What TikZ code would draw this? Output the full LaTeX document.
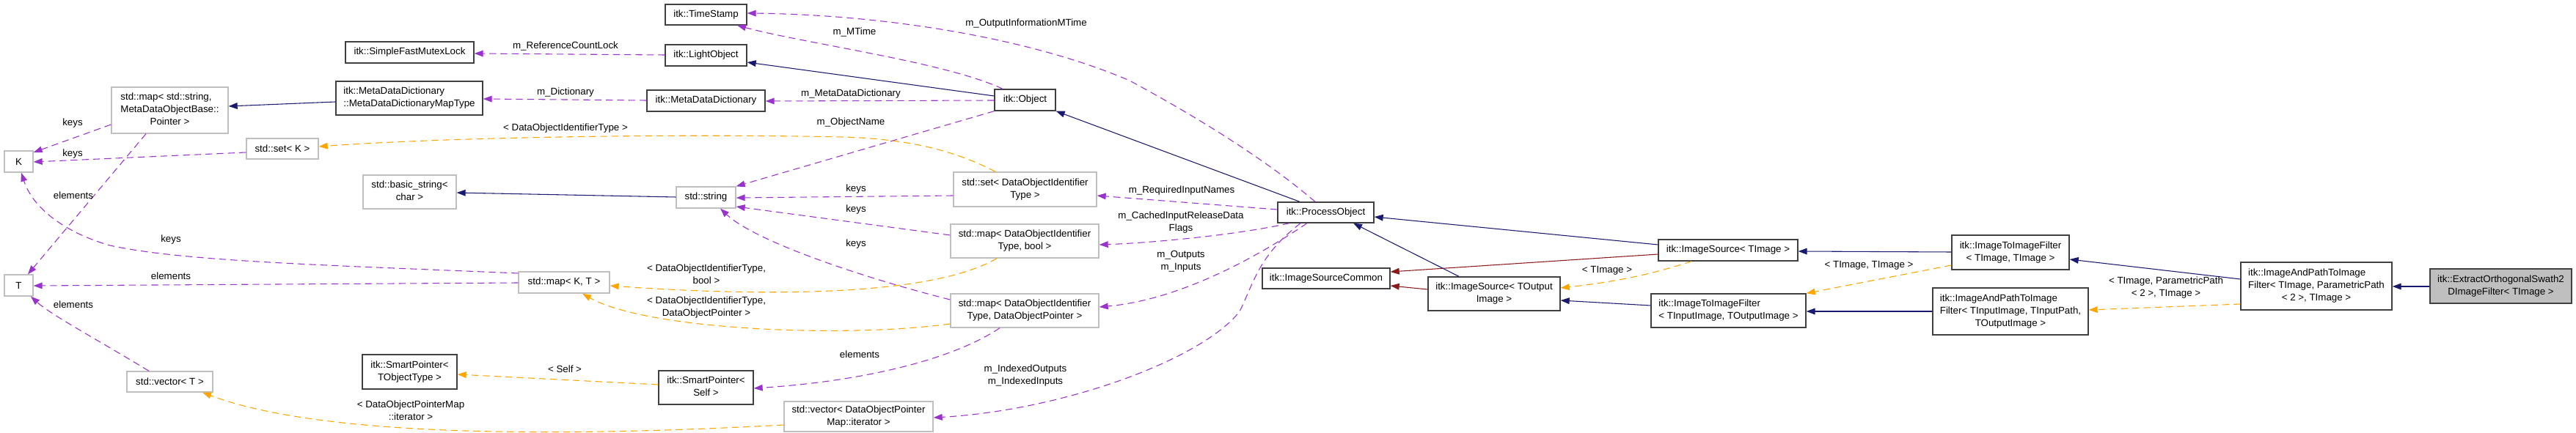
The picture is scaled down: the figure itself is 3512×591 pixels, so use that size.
\documentclass[tikz,border=0pt]{standalone}
\usepackage{fontspec}
\setmainfont{Liberation Sans}
\usetikzlibrary{arrows.meta}
\definecolor{navy}{HTML}{191970}
\definecolor{purp}{HTML}{9A32CD}
\definecolor{orng}{HTML}{FFA500}
\definecolor{dred}{HTML}{8B1A1A}
\definecolor{boxgray}{HTML}{BFBFBF}
\definecolor{boxdark}{HTML}{404040}
\newcommand\lbl{\fontsize{10}{12.75}\selectfont}
\newcommand\twoln[2]{\begin{tabular}{@{}l@{}}#1\\\multicolumn{1}{@{}c@{}}{#2}\end{tabular}}
\newcommand\threeln[3]{\begin{tabular}{@{}l@{}}#1\\#2\\\multicolumn{1}{@{}c@{}}{#3}\end{tabular}}
\newcommand\cls[7]{%
  \pgfmathsetmacro\cw{(#5-#3)*0.75}%
  \pgfmathsetmacro\ch{(#6-#4)*0.75}%
  \node[#2, minimum width=\cw pt, minimum height=\ch pt] (#1) at ({(#3+#5)/2},{(#4+#6)/2}) {#7};}
\tikzset{
  itk/.style={draw=boxdark, line width=1pt, fill=white, inner sep=0pt, font=\lbl},
  std/.style={draw=boxgray, line width=1pt, fill=white, inner sep=0pt, font=\lbl},
  hl/.style={draw=boxdark, line width=1pt, fill=boxgray, inner sep=0pt, font=\lbl},
  tip/.style={-{Triangle[length=9pt,width=6.5pt]}},
  inh/.style={draw=navy, line width=0.8pt, tip},
  pinh/.style={draw=dred, line width=0.8pt, tip},
  use/.style={draw=purp, line width=0.8pt, dash pattern=on 7pt off 4.5pt, tip},
  tpl/.style={draw=orng, line width=0.8pt, dash pattern=on 7pt off 4.5pt, tip},
  lab/.style={font=\lbl, inner sep=0pt, align=center}
}
\begin{document}
\begin{tikzpicture}[x=0.75pt,y=-0.75pt]
\useasboundingbox (0,0) rectangle (3512,591);
\fill[white] (0,0) rectangle (3512,591);
% nodes
\cls{sfml}{itk}{471}{57}{646}{86}{itk::SimpleFastMutexLock}
\cls{mapstr}{std}{152}{119}{311}{182}{\threeln{std::map< std::string,}{MetaDataObjectBase::}{Pointer >}}
\cls{mapty}{itk}{458}{111}{658}{157}{\twoln{itk::MetaDataDictionary}{::MetaDataDictionaryMapType}}
\cls{K}{std}{6}{206}{45}{235}{K}
\cls{setK}{std}{336}{189}{434}{217}{std::set< K >}
\cls{bstr}{std}{495}{239}{622}{285}{\twoln{std::basic\_string<}{char >}}
\cls{T}{std}{6}{375}{45}{404}{T}
\cls{vecT}{std}{173}{507}{290}{535}{std::vector< T >}
\cls{spobj}{itk}{494}{484}{623}{531}{\twoln{itk::SmartPointer<}{TObjectType >}}
\cls{ts}{itk}{907}{6}{1018}{34}{itk::TimeStamp}
\cls{lo}{itk}{907}{61}{1018}{90}{itk::LightObject}
\cls{mdd}{itk}{882}{123}{1043}{152}{itk::MetaDataDictionary}
\cls{str}{std}{922}{255}{1003}{284}{std::string}
\cls{mapKT}{std}{707}{371}{831}{400}{std::map< K, T >}
\cls{spself}{itk}{898}{506}{1027}{552}{\twoln{itk::SmartPointer<}{Self >}}
\cls{vecit}{std}{1069}{548}{1272}{589}{\twoln{std::vector< DataObjectPointer}{Map::iterator >}}
\cls{obj}{itk}{1356}{122}{1439}{151}{itk::Object}
\cls{setid}{std}{1300}{235}{1495}{282}{\twoln{std::set< DataObjectIdentifier}{Type >}}
\cls{mapb}{std}{1296}{306}{1498}{352}{\twoln{std::map< DataObjectIdentifier}{Type, bool >}}
\cls{mapp}{std}{1296}{401}{1498}{447}{\twoln{std::map< DataObjectIdentifier}{Type, DataObjectPointer >}}
\cls{po}{itk}{1742}{276}{1873}{304}{itk::ProcessObject}
\cls{isc}{itk}{1721}{366}{1895}{394}{itk::ImageSourceCommon}
\cls{isout}{itk}{1947}{378}{2127}{424}{\twoln{itk::ImageSource< TOutput}{Image >}}
\cls{isimg}{itk}{2261}{327}{2451}{356}{itk::ImageSource< TImage >}
\cls{itiio}{itk}{2251}{401}{2462}{447}{\twoln{itk::ImageToImageFilter}{< TInputImage, TOutputImage >}}
\cls{itiimg}{itk}{2661}{321}{2821}{368}{\twoln{itk::ImageToImageFilter}{< TImage, TImage >}}
\cls{iap}{itk}{2635}{393}{2847}{457}{\threeln{itk::ImageAndPathToImage}{Filter< TInputImage, TInputPath,}{TOutputImage >}}
\cls{iap2}{itk}{3055}{358}{3261}{423}{\threeln{itk::ImageAndPathToImage}{Filter< TImage, ParametricPath}{< 2 >, TImage >}}
\cls{ext}{hl}{3313}{367}{3506}{414}{\twoln{itk::ExtractOrthogonalSwath2}{DImageFilter< TImage >}}
% edges
\draw[inh] (mapty.west |- 0,139) -- (mapstr.east |- 0,145);
\draw[use] (mdd.west |- 0,137) -- (mapty.east |- 0,135);
\node[lab] (l1) at (771,126) {m\_Dictionary};
\draw[use] (lo.west |- 0,75) -- (sfml.east |- 0,73);
\node[lab] (l2) at (771,63) {m\_ReferenceCountLock};
\draw[use] (obj.north -| 1367,0) .. controls (1290,85) and (1100,60) .. (ts.south -| 1005,0);
\node[lab] (l3) at (1165,44) {m\_MTime};
\draw[inh] (obj.west |- 0,131) -- (lo.east |- 0,85);
\draw[use] (obj.west |- 0,137) -- (mdd.east |- 0,138);
\node[lab] (l4) at (1160,128) {m\_MetaDataDictionary};
\draw[use] (obj.south west) -- (str.north east);
\node[lab] (l5) at (1160,167) {m\_ObjectName};
\draw[inh] (po.north -| 1772,0) -- (obj.south east);
\draw[inh] (str.west |- 0,269) -- (bstr.east |- 0,263);
\draw[use] (setK.west |- 0,208) -- (K.east |- 0,221);
\node[lab] (l6) at (99,210) {keys};
\draw[use] (mapstr.west |- 0,170) -- (K.east |- 0,208);
\node[lab] (l7) at (99,168) {keys};
\draw[use] (mapstr.south -| 199,0) -- (T.north -| 38,0);
\node[lab] (l8) at (100,267) {elements};
\draw[use] (mapKT.west |- 0,373) .. controls (450,362) and (250,357) .. (150,335) .. controls (90,318) and (45,285) .. (K.south -| 29,0);
\node[lab] (l9) at (233,327) {keys};
\draw[use] (mapKT.west |- 0,386) -- (T.east |- 0,390);
\node[lab] (l10) at (233,377) {elements};
\draw[use] (vecT.north -| 203,0) .. controls (130,462) and (70,430) .. (T.south -| 42,0);
\node[lab] (l11) at (100,416) {elements};
\draw[tpl] (vecit.west |- 0,580) .. controls (700,600) and (420,590) .. (vecT.south -| 276,0);
\node[lab] (l12) at (560,560) {< DataObjectPointerMap\\::iterator >};
\draw[tpl] (setid.north -| 1357,0) .. controls (1310,210) and (1250,190) .. (1150,187) .. controls (900,182) and (600,188) .. (setK.east |- 0,200);
\node[lab] (l13) at (771,175) {< DataObjectIdentifierType >};
\draw[use] (setid.west |- 0,267) -- (str.east |- 0,270);
\node[lab] (l14) at (1167,258) {keys};
\draw[use] (mapb.west |- 0,321) -- (str.east |- 0,282);
\node[lab] (l15) at (1167,286) {keys};
\draw[use] (mapp.west |- 0,409) .. controls (1180,380) and (1030,330) .. (str.south -| 982,0);
\node[lab] (l16) at (1167,333) {keys};
\draw[tpl] (mapb.south -| 1359,0) .. controls (1260,410) and (1000,402) .. (mapKT.east |- 0,390);
\node[lab] (l17) at (963,374) {< DataObjectIdentifierType,\\bool >};
\draw[tpl] (mapp.west |- 0,442) .. controls (1150,462) and (880,450) .. (mapKT.south -| 794,0);
\node[lab] (l18) at (963,420) {< DataObjectIdentifierType,\\DataObjectPointer >};
\draw[use] (mapp.south -| 1363,0) .. controls (1300,490) and (1180,520) .. (spself.east |- 0,530);
\node[lab] (l19) at (1172,484) {elements};
\draw[tpl] (spself.west |- 0,525) -- (spobj.east |- 0,511);
\node[lab] (l20) at (770,504) {< Self >};
\draw[use] (po.west |- 0,286) -- (setid.east |- 0,267);
\node[lab] (l21) at (1611,260) {m\_RequiredInputNames};
\draw[use] (po.south -| 1758,0) .. controls (1680,322) and (1560,332) .. (mapb.east |- 0,334);
\node[lab] (l22) at (1610,304) {m\_CachedInputReleaseData\\Flags};
\draw[use] (po.south -| 1782,0) .. controls (1700,360) and (1600,410) .. (mapp.east |- 0,419);
\node[lab] (l23) at (1610,357) {m\_Outputs\\m\_Inputs};
\draw[use] (po.south -| 1773,0) .. controls (1715,350) and (1710,385) .. (1690,425) .. controls (1640,490) and (1450,560) .. (vecit.east |- 0,570);
\node[lab] (l24) at (1398,513) {m\_IndexedOutputs\\m\_IndexedInputs};
\draw[use] (po.north -| 1793,0) .. controls (1740,230) and (1660,175) .. (1540,110) .. controls (1400,50) and (1200,20) .. (ts.east |- 0,18);
\node[lab] (l25) at (1399,32) {m\_OutputInformationMTime};
\draw[inh] (isimg.west |- 0,334) -- (po.east |- 0,296);
\draw[pinh] (isimg.west |- 0,347) -- (isc.east |- 0,371);
\draw[inh] (isout.north -| 1989,0) -- (po.south -| 1845,0);
\draw[pinh] (isout.west |- 0,395) -- (isc.east |- 0,390);
\draw[tpl] (isimg.south -| 2306,0) .. controls (2250,375) and (2200,385) .. (isout.east |- 0,393);
\node[lab] (l26) at (2191,369) {< TImage >};
\draw[inh] (itiio.west |- 0,417) -- (isout.east |- 0,410);
\draw[inh] (itiimg.west |- 0,344) -- (isimg.east |- 0,343);
\draw[tpl] (itiimg.west |- 0,362) -- (itiio.north east);
\node[lab] (l27) at (2548,362) {< TImage, TImage >};
\draw[inh] (iap.west |- 0,425) -- (itiio.east |- 0,425);
\draw[inh] (iap2.west |- 0,381) -- (itiimg.east |- 0,354);
\draw[tpl] (iap2.west |- 0,415) -- (iap.east |- 0,423);
\node[lab] (l28) at (2953,393) {< TImage, ParametricPath\\< 2 >, TImage >};
\draw[inh] (ext.west |- 0,391) -- (iap2.east |- 0,391);
\end{tikzpicture}
\end{document}
